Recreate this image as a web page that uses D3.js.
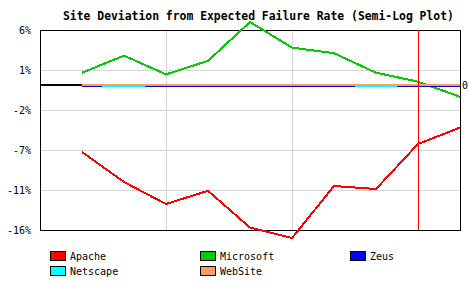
<!DOCTYPE html>
<html>
<head>
<meta charset="utf-8">
<script src="https://cdn.jsdelivr.net/npm/d3@7"></script>
<style>
    body { margin: 0; background: #fff; }
    svg { display: block; font-family: "DejaVu Sans Mono", monospace; }
</style>
</head>
<body>
<div id="chart"></div>
<script>
// data (percent deviation, plotted on a semi-log axis)
var periods = [1, 2, 3, 4, 5, 6, 7, 8, 9, 10];
var apache = [-7.2, -10.2, -12.75, -11.1, -15.7, -17.0, -10.6, -10.9, -6.25, -4.2];
var microsoft = [0.82, 2.8, 0.71, 2.15, 7.0, 3.8, 3.1, 0.82, 0.22, -0.94];
var zeus = [-0.08, 0, -0.08, -0.08, -0.08, -0.08, -0.08, 0, -0.08, -0.08];
var netscape = [-0.08, -0.08, -0.08, -0.08, -0.08, -0.08, -0.08, -0.08, -0.08, -0.08];
var website = [0, 0, 0, 0, 0, 0, 0, 0, 0, 0];
var yTicks = [6, 1, -2, -7, -11, -16];
var gridPeriods = [3, 6];
var markerPeriod = 9;

var seriesNames = ['Apache', 'Microsoft', 'Zeus', 'Netscape', 'WebSite'];
var seriesColors = ['#ff0000', '#00cc00', '#0000ff', '#00ffff', '#ff9966'];
var lineColors = ['#ff0000', '#00cc00', '#0000cc', '#00ffff', '#ff9966'];

var width = 468, height = 300;
var margin = {top: 30, right: 8, bottom: 70, left: 40};

var svg = d3.select('#chart').append('svg')
    .attr('width', width)
    .attr('height', height);

var x = d3.scaleLinear()
    .domain([0, periods.length])
    .range([margin.left, width - margin.right]);

// semi-log axis: tick values sit at evenly spaced positions
var y = d3.scaleLinear()
    .domain([-16, -11, -7, -2, 0, 1, 6])
    .range([230, 190, 150, 110, 85, 70, 30]);

svg.append('text')
    .attr('x', 63)
    .attr('y', 20)
    .attr('font-size', '11.4px')
    .attr('font-weight', 'bold')
    .attr('fill', '#000')
    .text('Site Deviation from Expected Failure Rate (Semi-Log Plot)');

// grid
var grid = svg.append('g').attr('shape-rendering', 'crispEdges');
grid.selectAll('line.h')
    .data(yTicks.slice(1, -1))
    .enter().append('line')
    .attr('x1', x(0)).attr('x2', x(periods.length))
    .attr('y1', function(d) { return y(d) + 0.5; })
    .attr('y2', function(d) { return y(d) + 0.5; })
    .attr('stroke', '#d6d6d6');
grid.selectAll('line.v')
    .data(gridPeriods)
    .enter().append('line')
    .attr('x1', function(d) { return x(d) + 0.5; })
    .attr('x2', function(d) { return x(d) + 0.5; })
    .attr('y1', y(6)).attr('y2', y(-16))
    .attr('stroke', '#d6d6d6');

// zero baseline
svg.append('line')
    .attr('x1', x(0)).attr('x2', x(periods.length))
    .attr('y1', y(0)).attr('y2', y(0))
    .attr('stroke', '#000')
    .attr('stroke-width', 2)
    .attr('shape-rendering', 'crispEdges');

// frame
svg.append('rect')
    .attr('x', x(0) + 0.5)
    .attr('y', y(6) + 0.5)
    .attr('width', x(periods.length) - x(0))
    .attr('height', y(-16) - y(6))
    .attr('fill', 'none')
    .attr('stroke', '#000')
    .attr('shape-rendering', 'crispEdges');

var yAxis = d3.axisLeft(y)
    .tickValues(yTicks)
    .tickSize(0)
    .tickPadding(9)
    .tickFormat(function(d) { return d + '%'; });
var yAxisG = svg.append('g')
    .attr('transform', 'translate(' + x(0) + ',0)')
    .call(yAxis);
yAxisG.select('.domain').remove();
yAxisG.selectAll('text')
    .attr('font-family', '"DejaVu Sans Mono", monospace')
    .attr('font-size', '10px')
    .attr('fill', '#000');

svg.append('text')
    .attr('x', x(periods.length) + 2)
    .attr('y', y(0))
    .attr('dy', '0.35em')
    .attr('font-size', '10px')
    .text('0');

// series, drawn so that Zeus sits over Netscape and WebSite over both
var line = d3.line()
    .x(function(d, i) { return x(periods[i]); })
    .y(function(d) { return y(d); });

var drawOrder = [
    {values: apache, color: lineColors[0]},
    {values: microsoft, color: lineColors[1]},
    {values: netscape, color: lineColors[3]},
    {values: zeus, color: lineColors[2]},
    {values: website, color: lineColors[4]}
];
svg.append('g').selectAll('path')
    .data(drawOrder)
    .enter().append('path')
    .attr('d', function(d) { return line(d.values); })
    .attr('fill', 'none')
    .attr('stroke', function(d) { return d.color; })
    .attr('stroke-width', 2)
    .attr('shape-rendering', 'crispEdges');

// current-period marker
svg.append('line')
    .attr('x1', x(markerPeriod) + 0.5)
    .attr('x2', x(markerPeriod) + 0.5)
    .attr('y1', y(6)).attr('y2', y(-16))
    .attr('stroke', '#ff0000')
    .attr('shape-rendering', 'crispEdges');

// legend
var legend = svg.append('g');
var items = legend.selectAll('g')
    .data(seriesNames)
    .enter().append('g')
    .attr('transform', function(d, i) {
        return 'translate(' + (50 + (i % 3) * 150) + ',' + (251 + Math.floor(i / 3) * 15) + ')';
    });
items.append('rect')
    .attr('x', 0.5).attr('y', 0.5)
    .attr('width', 15).attr('height', 9)
    .attr('fill', function(d, i) { return seriesColors[i]; })
    .attr('stroke', '#000')
    .attr('shape-rendering', 'crispEdges');
items.append('text')
    .attr('x', 20)
    .attr('y', 5.5)
    .attr('dy', '0.35em')
    .attr('font-size', '10px')
    .attr('fill', '#000')
    .text(function(d) { return d; });
</script>
</body>
</html>
